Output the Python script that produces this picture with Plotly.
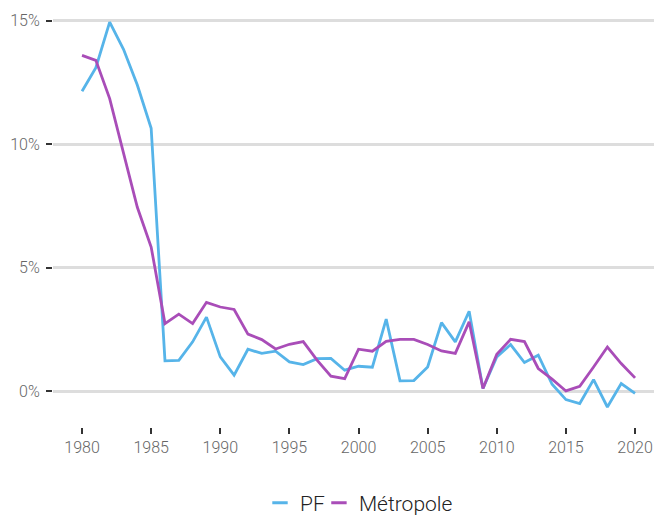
import plotly.graph_objects as go

years = list(range(1980, 2021))
pf = [12.15, 13.1, 14.95, 13.85, 12.4, 10.65, 1.23, 1.25, 2.0, 3.0,
      1.39, 0.65, 1.7, 1.53, 1.62, 1.19, 1.08, 1.32, 1.33, 0.85,
      1.01, 0.97, 2.92, 0.42, 0.43, 0.98, 2.78, 2.0, 3.24, 0.11,
      1.39, 1.89, 1.16, 1.46, 0.28, -0.34, -0.5, 0.47, -0.64, 0.31,
      -0.09]
metro = [13.6, 13.4, 11.85, 9.66, 7.45, 5.84, 2.74, 3.12, 2.74, 3.6,
         3.41, 3.31, 2.31, 2.09, 1.71, 1.9, 2.01, 1.26, 0.61, 0.51,
         1.7, 1.62, 2.02, 2.1, 2.1, 1.89, 1.63, 1.53, 2.81, 0.11,
         1.5, 2.1, 2.01, 0.92, 0.49, 0.01, 0.2, 0.98, 1.79, 1.12,
         0.54]
series_names = ["PF", "Métropole"]
colors = ["#56B4E9", "#A94DB8"]
x_ticks = [1980, 1985, 1990, 1995, 2000, 2005, 2010, 2015, 2020]
y_ticks = [0, 5, 10, 15]
y_tick_labels = ["0%", "5%", "10%", "15%"]
legend_ids = ["legend", "legend2"]

fig = go.Figure()
for name, vals, col in zip(series_names, [pf, metro], colors):
    fig.add_trace(go.Scatter(x=years, y=vals, mode="lines", name=name,
                             showlegend=False, legendgroup=name,
                             line=dict(color=col, width=2.8)))
# legend-only entries with a short dash symbol
for name, col, lid in zip(series_names, colors, legend_ids):
    fig.add_trace(go.Scatter(x=[None], y=[None], mode="markers", name=name,
                             legendgroup=name, showlegend=True, legend=lid,
                             marker=dict(symbol="line-ew-open", size=11, color=col,
                                         line=dict(color=col, width=3))))

leg_common = dict(orientation="h", xanchor="left", yref="container",
                  y=0.0275, yanchor="middle",
                  font=dict(size=21, color="#222222", family="Roboto", weight=300),
                  itemwidth=30, tracegroupgap=0, bgcolor="rgba(0,0,0,0)")

# page has an 8px body margin, so the figure is shrunk by 8px
fig.update_layout(
    width=654, height=509,
    margin=dict(l=45, r=0, t=3, b=90, autoexpand=False),
    paper_bgcolor="white", plot_bgcolor="white",
    font=dict(family="Roboto", color="#666666", size=16, weight=300),
    showlegend=True,
    legend=dict(x=0.3399, **leg_common),
    legend2=dict(x=0.4367, **leg_common),
    xaxis=dict(range=[1977.9, 2021.95], tickvals=x_ticks, showgrid=False,
               zeroline=False, showline=False, ticks="outside", ticklen=6,
               tickwidth=2, tickcolor="#333333", automargin=False,
               tickfont=dict(size=16, color="#666666")),
    yaxis=dict(range=[-1.45, 15.4], tickvals=y_ticks, ticktext=y_tick_labels,
               showgrid=True, gridcolor="#dddddd", gridwidth=2.5,
               zeroline=False, showline=False, ticks="outside", ticklen=6,
               tickwidth=2, tickcolor="#333333", automargin=False,
               ticklabelstandoff=3,
               tickfont=dict(size=16, color="#666666")),
)

fig.write_html("out.html")
